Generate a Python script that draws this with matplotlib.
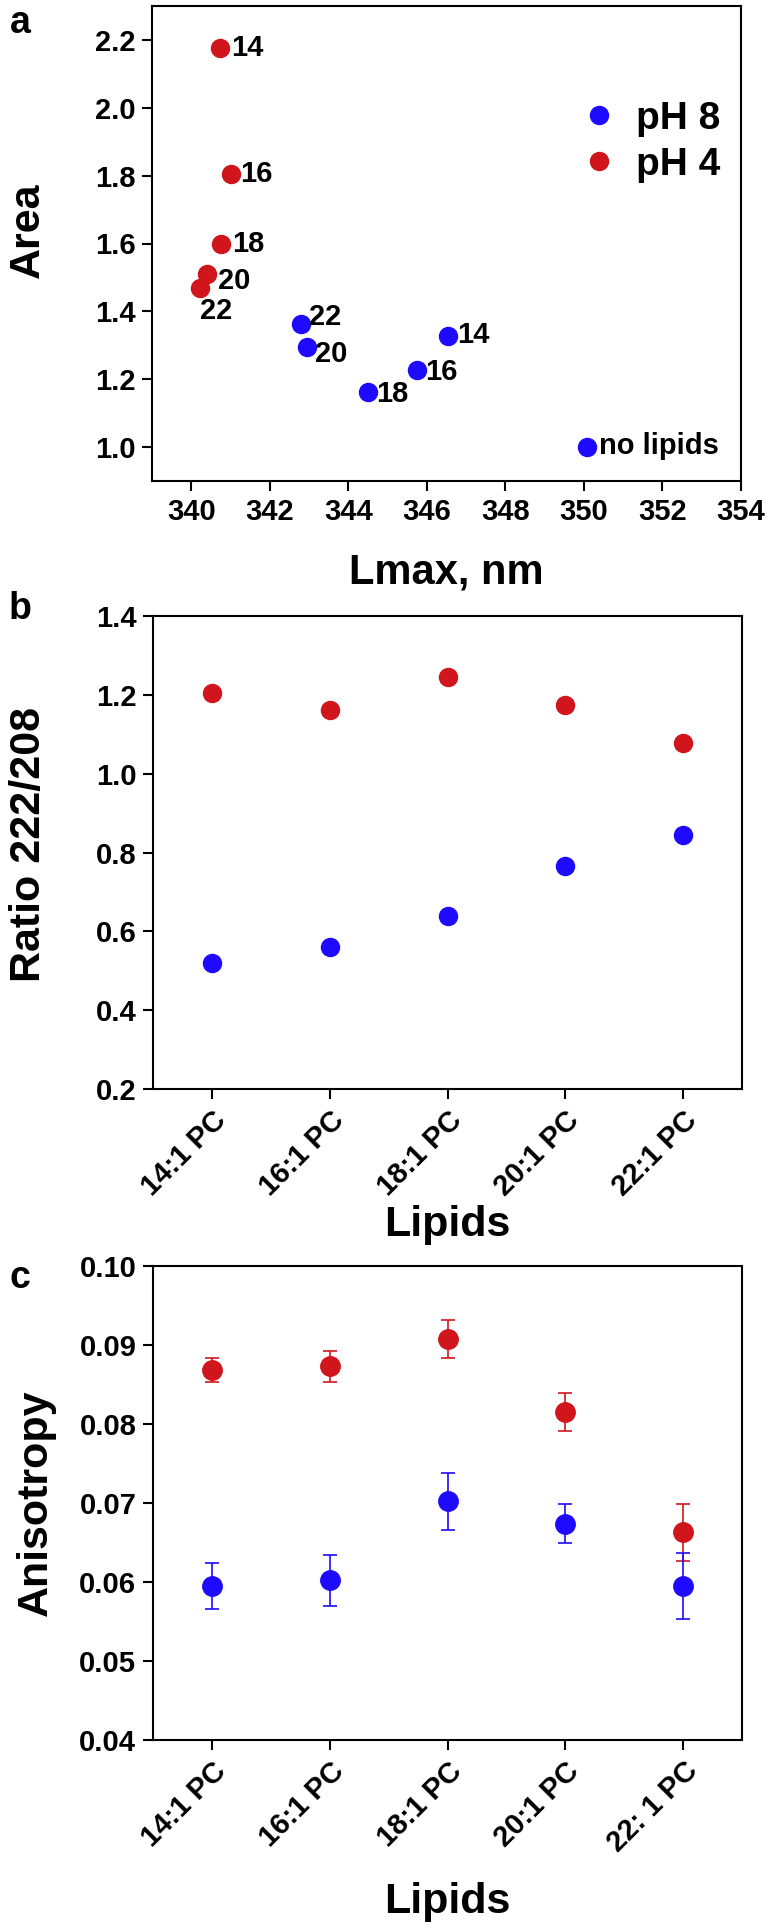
import numpy as np
import matplotlib
matplotlib.use("Agg")
import matplotlib.pyplot as plt
from matplotlib.ticker import MultipleLocator, FormatStrFormatter

plt.rcParams['font.family'] = ['Liberation Sans', 'DejaVu Sans']
plt.rcParams['font.weight'] = 'bold'

RED = '#D0161C'
BLUE = '#1E0BFF'

# panel a: Lmax vs area
chain = ['14', '16', '18', '20', '22']
lmax_ph4 = [340.72, 341.0, 340.76, 340.41, 340.21]
area_ph4 = [2.177, 1.804, 1.598, 1.511, 1.470]
lmax_ph8 = [346.55, 345.75, 344.49, 342.95, 342.79]
area_ph8 = [1.326, 1.226, 1.161, 1.296, 1.363]
lmax_nolip = 350.09
area_nolip = 1.0

# label offsets (points) for chain numbers
off_ph4 = [(8, 0), (7, 0), (8, 0), (8, -5), (0, -17)]
off_ph8 = [(6, 1), (6, -1), (6, -1), (6, -5), (6, 5)]

# panel b: ratio 222/208
lipids_b = ['14:1 PC', '16:1 PC', '18:1 PC', '20:1 PC', '22:1 PC']
ratio_ph4 = [1.205, 1.162, 1.246, 1.173, 1.077]
ratio_ph8 = [0.520, 0.559, 0.639, 0.766, 0.844]

# panel c: anisotropy
lipids_c = ['14:1 PC', '16:1 PC', '18:1 PC', '20:1 PC', '22: 1 PC']
aniso_ph4 = [0.0868, 0.0873, 0.0908, 0.0815, 0.0663]
aniso_ph4_err = [0.0015, 0.0020, 0.0024, 0.0024, 0.0036]
aniso_ph8 = [0.0595, 0.0602, 0.0702, 0.0674, 0.0595]
aniso_ph8_err = [0.0029, 0.0032, 0.0036, 0.0025, 0.0042]

W, H = 774, 1932
fig = plt.figure(figsize=(W / 100, H / 100), dpi=100)


def px_axes(left, right, top, bottom):
    return fig.add_axes([left / W, (H - bottom) / H, (right - left) / W, (bottom - top) / H])


def style(ax):
    for s in ax.spines.values():
        s.set_linewidth(1.5)
    ax.tick_params(direction='out', length=7, width=1.5, labelsize=21, pad=5)
    for t in ax.get_xticklabels() + ax.get_yticklabels():
        t.set_fontweight('bold')


ms = 13
tick_fs = 21

# ---- a ----
ax1 = px_axes(152, 741, 6, 481)
ax1.plot(lmax_ph8 + [lmax_nolip], area_ph8 + [area_nolip], 'o', color=BLUE, ms=ms, label='pH 8', ls='none')
ax1.plot(lmax_ph4, area_ph4, 'o', color=RED, ms=ms, label='pH 4', ls='none')
for x, y, t, o in zip(lmax_ph4, area_ph4, chain, off_ph4):
    ax1.annotate(t, (x, y), xytext=o, textcoords='offset points', ha='left', va='center',
                 fontsize=tick_fs, fontweight='bold')
for x, y, t, o in zip(lmax_ph8, area_ph8, chain, off_ph8):
    ax1.annotate(t, (x, y), xytext=o, textcoords='offset points', ha='left', va='center',
                 fontsize=tick_fs, fontweight='bold')
ax1.annotate('no lipids', (lmax_nolip, area_nolip), xytext=(8, 1), textcoords='offset points',
             ha='left', va='center', fontsize=tick_fs, fontweight='bold')
ax1.xaxis.set_major_locator(MultipleLocator(2))
ax1.yaxis.set_major_locator(MultipleLocator(0.2))
ax1.yaxis.set_major_formatter(FormatStrFormatter('%.1f'))
ax1.set_xlim(339, 354)
ax1.set_ylim(0.9, 2.3)
style(ax1)
ax1.set_xlabel('Lmax, nm', fontsize=30, fontweight='bold')
ax1.xaxis.set_label_coords(0.5, -0.15)
ax1.set_ylabel('Area', fontsize=31, fontweight='bold')
ax1.yaxis.set_label_coords(-0.176, 0.528)
ax1.legend(loc='upper left', bbox_to_anchor=(0.726, 0.80), frameon=False,
           handlelength=1.0, handletextpad=0.45, borderpad=0, borderaxespad=0,
           labelspacing=0.25, prop={'weight': 'bold', 'size': 28})

# ---- b ----
ax2 = px_axes(153, 742, 616, 1089)
xb = np.arange(len(lipids_b))
ax2.plot(xb, ratio_ph4, 'o', color=RED, ms=ms, ls='none')
ax2.plot(xb, ratio_ph8, 'o', color=BLUE, ms=ms, ls='none')
ax2.set_xlim(-0.5, 4.5)
ax2.set_ylim(0.2, 1.4)
ax2.set_xticks(xb)
ax2.set_xticklabels(lipids_b, rotation=45, ha='right', rotation_mode='anchor')
ax2.yaxis.set_major_locator(MultipleLocator(0.2))
ax2.yaxis.set_major_formatter(FormatStrFormatter('%.1f'))
style(ax2)
ax2.set_xlabel('Lipids', fontsize=31, fontweight='bold')
ax2.xaxis.set_label_coords(0.5, -0.245)
ax2.set_ylabel('Ratio 222/208', fontsize=31, fontweight='bold')
ax2.yaxis.set_label_coords(-0.177, 0.518)

# ---- c ----
ax3 = px_axes(153, 742, 1266, 1740)
xc = np.arange(len(lipids_c))
ax3.errorbar(xc, aniso_ph4, yerr=aniso_ph4_err, fmt='o', color=RED, ms=ms + 1,
             elinewidth=1.2, capsize=5, capthick=1.2)
ax3.errorbar(xc, aniso_ph8, yerr=aniso_ph8_err, fmt='o', color=BLUE, ms=ms + 1,
             elinewidth=1.2, capsize=5, capthick=1.2)
ax3.set_xlim(-0.5, 4.5)
ax3.set_ylim(0.04, 0.10)
ax3.set_xticks(xc)
ax3.set_xticklabels(lipids_c, rotation=45, ha='right', rotation_mode='anchor')
ax3.yaxis.set_major_locator(MultipleLocator(0.01))
ax3.yaxis.set_major_formatter(FormatStrFormatter('%.2f'))
style(ax3)
ax3.set_xlabel('Lipids', fontsize=31, fontweight='bold')
ax3.xaxis.set_label_coords(0.5, -0.30)
ax3.set_ylabel('Anisotropy', fontsize=31, fontweight='bold')
ax3.yaxis.set_label_coords(-0.165, 0.5)

# panel letters
for letter, ypx in [('a', 23), ('b', 609), ('c', 1278)]:
    fig.text(20 / W, 1 - ypx / H, letter, fontsize=27, fontweight='bold', ha='center', va='center')

fig.savefig('out.png', dpi=100)
